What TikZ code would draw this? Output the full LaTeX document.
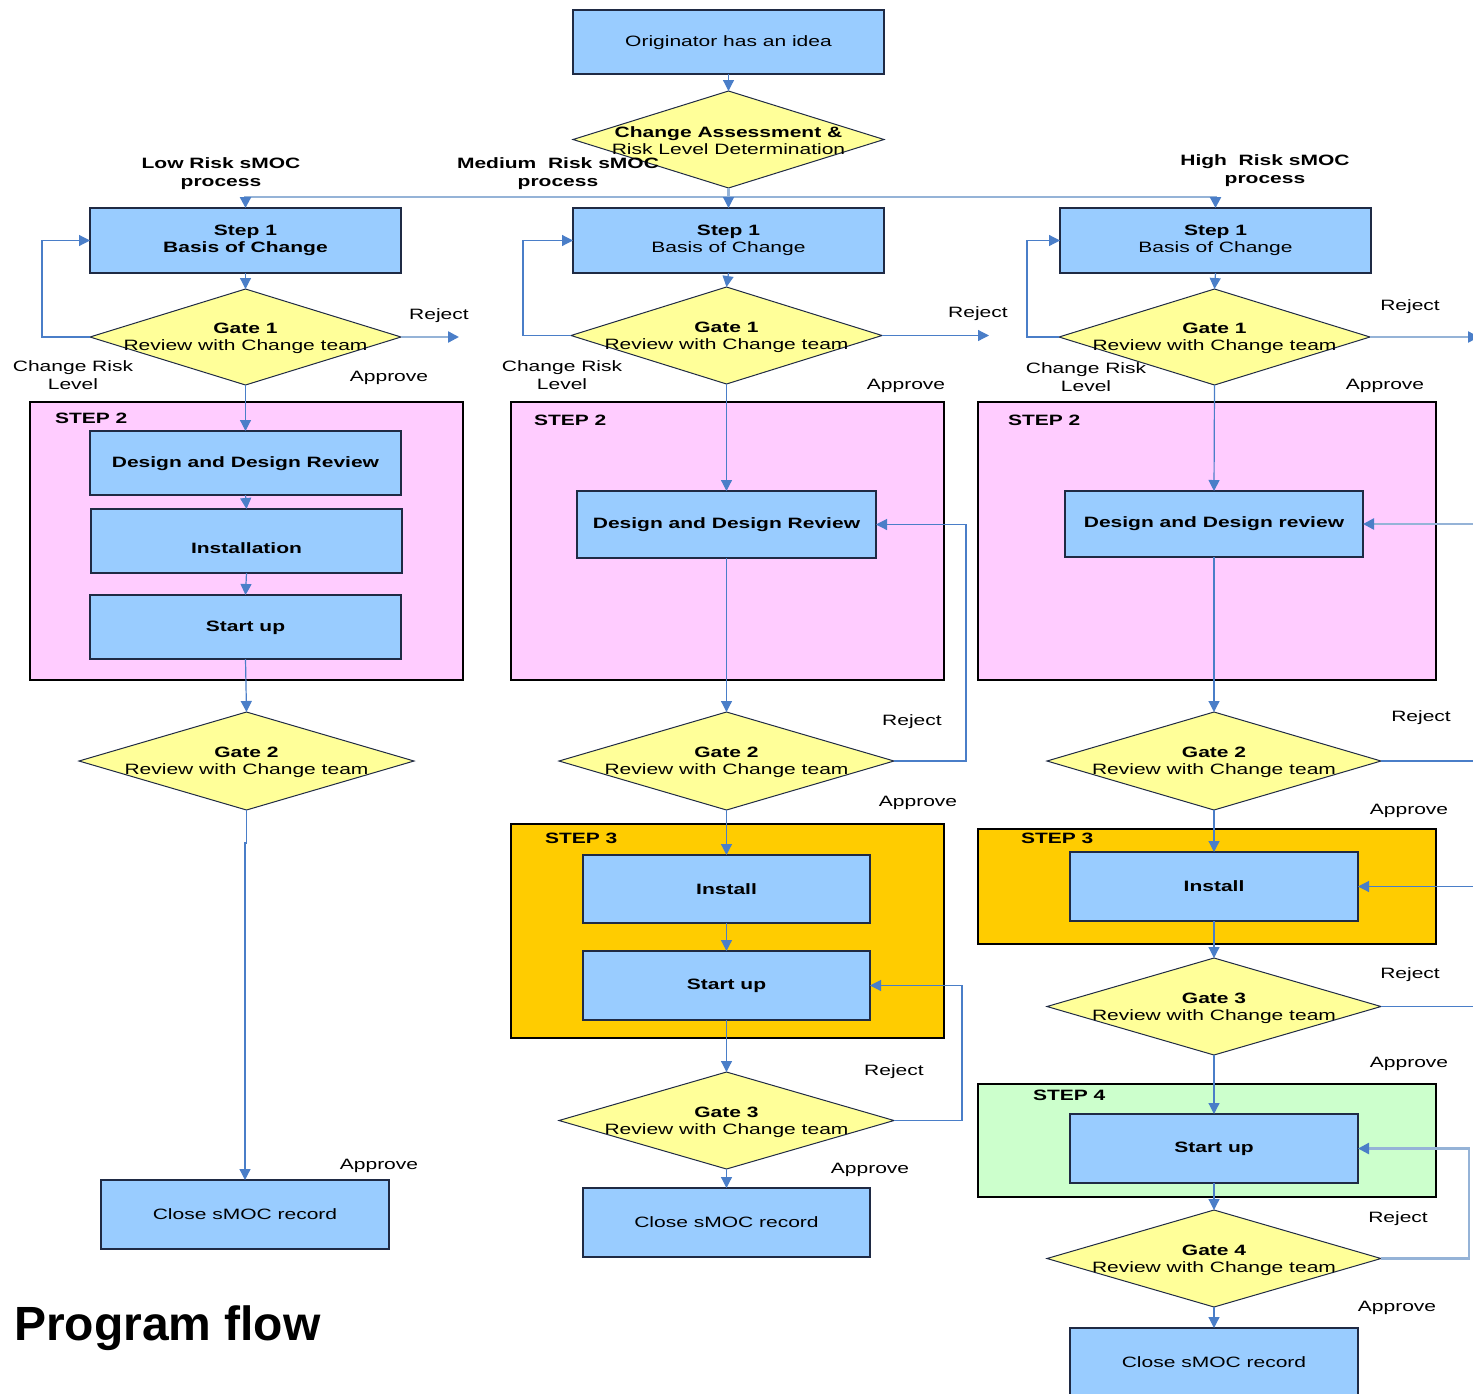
\documentclass[tikz,border=0pt]{standalone}
\usepackage{fontspec}
\setmainfont{Liberation Sans}[FakeStretch=1.4]
\newfontfamily\titlefont{Liberation Sans}
\usetikzlibrary{shapes.geometric,arrows.meta}
\definecolor{boxblue}{HTML}{99CCFF}
\definecolor{gateyel}{HTML}{FFFF99}
\definecolor{steppink}{HTML}{FFCCFF}
\definecolor{steporange}{HTML}{FFCC00}
\definecolor{stepgreen}{HTML}{CCFFCC}
\definecolor{linkblue}{HTML}{4A7EC8}
\definecolor{buslight}{HTML}{95B3D7}
\definecolor{edgedark}{HTML}{1F2A44}
\begin{document}
\begin{tikzpicture}[x=1pt,y=-1pt,
  every node/.style={font=\fontsize{15}{17}\selectfont, inner sep=0pt, outer sep=0pt},
  box/.style={draw=edgedark, line width=1.2pt, fill=boxblue, rectangle, align=center},
  gate/.style={draw=edgedark, line width=1pt, fill=gateyel, diamond, inner sep=0pt},
  gatetext/.style={align=center, yshift=-1.5pt},
  frame/.style={draw=black, line width=1.8pt, rectangle},
  steplabel/.style={font=\fontsize{15}{17}\selectfont\bfseries, anchor=west},
  lbl/.style={align=center},
  arr/.style={draw=linkblue, line width=1.2pt, -{Triangle[length=11pt,width=11pt,color=linkblue]}},
  ln/.style={draw=linkblue, line width=1.2pt},
  busarr/.style={draw=buslight, line width=2.4pt, -{Triangle[length=11pt,width=11pt,color=linkblue]}},
  busln/.style={draw=buslight, line width=2.4pt}
]
\useasboundingbox (0,0) rectangle (1473,1393);
\clip (0,0) rectangle (1473,1393);

% STEP frames
\node[frame, fill=steppink, minimum width=433pt, minimum height=278pt] (f2l) at (246.5,541) {};
\node[frame, fill=steppink, minimum width=433pt, minimum height=278pt] (f2m) at (727.5,541) {};
\node[frame, fill=steppink, minimum width=458pt, minimum height=278pt] (f2r) at (1207,541) {};
\node[frame, fill=steporange, minimum width=433pt, minimum height=214pt] (f3m) at (727.5,931) {};
\node[frame, fill=steporange, minimum width=458pt, minimum height=115pt] (f3r) at (1207,886.5) {};
\node[frame, fill=stepgreen, minimum width=458pt, minimum height=113pt] (f4r) at (1207,1140.5) {};
\node[steplabel] (t2l) at (55,418) {STEP 2};
\node[steplabel] (t2m) at (534,420) {STEP 2};
\node[steplabel] (t2r) at (1008,420) {STEP 2};
\node[steplabel] (t3m) at (545,838) {STEP 3};
\node[steplabel] (t3r) at (1021,838) {STEP 3};
\node[steplabel] (t4r) at (1033,1095) {STEP 4};

% top
\node[box, minimum width=311pt, minimum height=64pt,
  label={[yshift=-1pt]center:Originator has an idea}] (orig) at (728.5,42) {};
\node[gate, minimum width=311pt, minimum height=97pt,
  label={[gatetext]center:{\textbf{Change Assessment \&}\\Risk Level Determination}}] (ca) at (728.5,139.5) {};

\node[lbl, font=\fontsize{15}{18}\selectfont\bfseries] (lowl) at (221,174) {Low Risk sMOC\\process};
\node[lbl, font=\fontsize{15}{18}\selectfont\bfseries] (medl) at (558,174) {Medium~ Risk sMOC\\process};
\node[lbl, font=\fontsize{15}{18}\selectfont\bfseries] (highl) at (1265,171) {High~ Risk sMOC\\process};

% step 1
\node[box, minimum width=311pt, minimum height=65pt] (s1l) at (245.5,240.5) {\textbf{Step 1}\\\textbf{Basis of Change}};
\node[box, minimum width=311pt, minimum height=65pt] (s1m) at (728.5,240.5) {\textbf{Step 1}\\Basis of Change};
\node[box, minimum width=311pt, minimum height=65pt] (s1r) at (1215.5,240.5) {\textbf{Step 1}\\Basis of Change};

% gate 1
\node[gate, minimum width=311pt, minimum height=96pt,
  label={[gatetext]center:{\textbf{Gate 1}\\Review with Change team}}] (g1l) at (245.5,337) {};
\node[gate, minimum width=311pt, minimum height=97pt,
  label={[gatetext]center:{\textbf{Gate 1}\\Review with Change team}}] (g1m) at (726.5,335.5) {};
\node[gate, minimum width=311pt, minimum height=96pt,
  label={[gatetext]center:{\textbf{Gate 1}\\Review with Change team}}] (g1r) at (1214.5,337) {};

% left column
\node[box, minimum width=311pt, minimum height=64pt,
  label={[yshift=-1pt]center:\textbf{Design and Design Review}}] (ddrl) at (245.5,463) {};
\node[box, minimum width=311pt, minimum height=64pt,
  label={[yshift=-7pt]center:\textbf{Installation}}] (instl) at (246.5,541) {};
\node[box, minimum width=311pt, minimum height=64pt,
  label={[yshift=-1pt]center:\textbf{Start up}}] (sul) at (245.5,627) {};
\node[gate, minimum width=335pt, minimum height=98pt,
  label={[gatetext]center:{\textbf{Gate 2}\\Review with Change team}}] (g2l) at (246.5,761) {};
\node[box, minimum width=288pt, minimum height=69pt] (closel) at (245,1214.5) {Close sMOC record};

% middle column
\node[box, minimum width=299pt, minimum height=67pt] (ddrm) at (726.5,524.5) {\textbf{Design and Design Review}};
\node[gate, minimum width=335pt, minimum height=98pt,
  label={[gatetext]center:{\textbf{Gate 2}\\Review with Change team}}] (g2m) at (726.5,761) {};
\node[box, minimum width=287pt, minimum height=68pt] (instm) at (726.5,889) {\textbf{Install}};
\node[box, minimum width=287pt, minimum height=69pt] (sum) at (726.5,985.5) {\textbf{Start up}};
\node[gate, minimum width=335pt, minimum height=97pt,
  label={[gatetext]center:{\textbf{Gate 3}\\Review with Change team}}] (g3m) at (726.5,1120.5) {};
\node[box, minimum width=287pt, minimum height=69pt] (closem) at (726.5,1222.5) {Close sMOC record};

% right column
\node[box, minimum width=298pt, minimum height=66pt] (ddrr) at (1214,524) {\textbf{Design and Design review}};
\node[gate, minimum width=334pt, minimum height=98pt,
  label={[gatetext]center:{\textbf{Gate 2}\\Review with Change team}}] (g2r) at (1214,761) {};
\node[box, minimum width=288pt, minimum height=69pt] (instr) at (1214,886.5) {\textbf{Install}};
\node[gate, minimum width=334pt, minimum height=97pt,
  label={[gatetext]center:{\textbf{Gate 3}\\Review with Change team}}] (g3r) at (1214,1006.5) {};
\node[box, minimum width=288pt, minimum height=69pt] (sur) at (1214,1148.5) {\textbf{Start up}};
\node[gate, minimum width=334pt, minimum height=97pt,
  label={[gatetext]center:{\textbf{Gate 4}\\Review with Change team}}] (g4r) at (1214,1258.5) {};
\node[box, minimum width=288pt, minimum height=74pt,
  label={[yshift=3pt]center:Close sMOC record}] (closer) at (1214,1365) {};

% labels
\node (rj1) at (439,316) {Reject};
\node (rj2) at (978,314) {Reject};
\node (rj3) at (1410,307) {Reject};
\node (rj4) at (912,722) {Reject};
\node (rj5) at (1421,718) {Reject};
\node (rj6) at (894,1072) {Reject};
\node (rj7) at (1410,975) {Reject};
\node (rj8) at (1398,1219) {Reject};
\node (ap1) at (389,378) {Approve};
\node (ap2) at (906,386) {Approve};
\node (ap3) at (1385,386) {Approve};
\node (ap4) at (918,803) {Approve};
\node (ap5) at (1409,811) {Approve};
\node (ap6) at (870,1170) {Approve};
\node (ap7) at (1409,1064) {Approve};
\node (ap8) at (1397,1308) {Approve};
\node (ap9) at (379,1166) {Approve};
\node[lbl, font=\fontsize{15}{18}\selectfont] (cr1) at (73,375) {Change Risk\\Level};
\node[lbl, font=\fontsize{15}{18}\selectfont] (cr2) at (562,375) {Change Risk\\Level};
\node[lbl, font=\fontsize{15}{18}\selectfont] (cr3) at (1086,377) {Change Risk\\Level};

\node[anchor=base west, font=\titlefont\fontsize{48}{50}\selectfont\bfseries] (title) at (14,1340) {Program flow};

% off-page coordinates
\coordinate (out1l) at (459,337);
\coordinate (out1m) at (989,335.5);
\coordinate (out1r) at (1479,337);
\coordinate (inddr) at (1480,524);
\coordinate (out2r) at (1480,761);
\coordinate (ininst) at (1480,886.5);
\coordinate (out3r) at (1480,1006.5);

% connectors: top
\draw[arr] (orig.south) -- (ca.north);
\draw[busln] (ca.south) -- ++(0,9) coordinate (busm);
\draw[busarr] (busm) -| (s1l.north);
\draw[busarr] (busm) -| (s1r.north);
\draw[arr] (busm) -- (s1m.north);

% gate 1
\draw[arr] (s1l.south) -- (g1l.north);
\draw[arr] (s1m.south) -- (g1m.north);
\draw[arr] (s1r.south) -- (g1r.north);
\draw[arr] (g1l.west) -- ++(-48,0) |- (s1l.west);
\draw[arr] (g1m.west) -- ++(-48,0) |- (s1m.west);
\draw[arr] (g1r.west) -- ++(-32,0) |- (s1r.west);
\draw[busarr] (g1l.east) -- (out1l);
\draw[arr] (g1m.east) -- (out1m);
\draw[busarr] (g1r.east) -- (out1r);

% left column
\draw[arr] (g1l.south) -- (ddrl.north);
\draw[arr] (ddrl.south) -- (instl.north);
\draw[arr] (instl.south) -- (sul.north);
\draw[arr] (sul.south) -- (g2l.north);
\draw[arr] (g2l.south) -- ++(0,33) -| (closel.north);

% middle column
\draw[arr] (g1m.south) -- (ddrm.north);
\draw[arr] (ddrm.south) -- (g2m.north);
\draw[arr] (g2m.east) -- ++(72,0) |- (ddrm.east);
\draw[arr] (g2m.south) -- (instm.north);
\draw[arr] (instm.south) -- (sum.north);
\draw[arr] (sum.south) -- (g3m.north);
\draw[arr] (g3m.east) -- ++(68,0) |- (sum.east);
\draw[arr] (g3m.south) -- (closem.north);

% right column
\draw[arr] (g1r.south) -- (ddrr.north);
\draw[busarr] (inddr) -- (ddrr.east);
\draw[arr] (ddrr.south) -- (g2r.north);
\draw[ln] (g2r.east) -- (out2r);
\draw[arr] (g2r.south) -- (instr.north);
\draw[arr] (ininst) -- (instr.east);
\draw[arr] (instr.south) -- (g3r.north);
\draw[ln] (g3r.east) -- (out3r);
\draw[arr] (g3r.south) -- (sur.north);
\draw[arr] (sur.south) -- (g4r.north);
\draw[busarr] (g4r.east) -- ++(88,0) |- (sur.east);
\draw[arr] (g4r.south) -- (closer.north);
\end{tikzpicture}
\end{document}
